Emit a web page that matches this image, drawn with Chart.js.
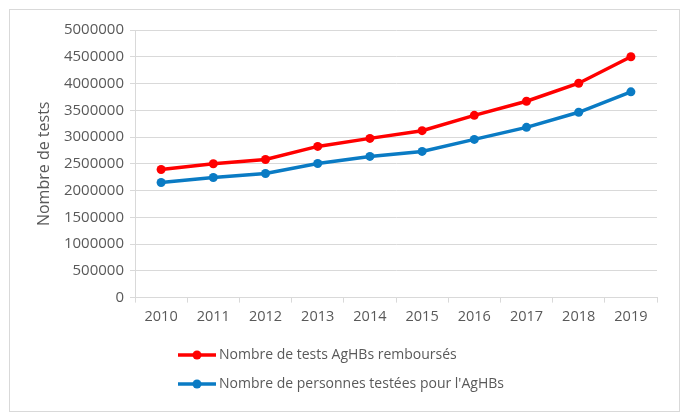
<!DOCTYPE html>
<html>
<head>
<meta charset="utf-8">
<script src="https://cdn.jsdelivr.net/npm/chart.js@4/dist/chart.umd.min.js"></script>
<style>
html,body{margin:0;padding:0;background:#fff;}
#wrap{width:690px;height:420px;position:relative;}
</style>
</head>
<body>
<div id="wrap"><canvas id="c" width="690" height="420"></canvas></div>
<script>
const years = ['2010','2011','2012','2013','2014','2015','2016','2017','2018','2019'];
const testsRembourses = [2394000, 2500000, 2581000, 2825000, 2975000, 3119000, 3406000, 3669000, 4006000, 4500000];
const personnesTestees = [2150000, 2244000, 2319000, 2506000, 2638000, 2731000, 2956000, 3181000, 3463000, 3844000];
const seriesLabels = ['Nombre de tests AgHBs remboursés', "Nombre de personnes testées pour l'AgHBs"];
const seriesColors = ['#FF0000', '#0A7BC4'];
const yTitle = 'Nombre de tests';

const FONT = "'Open Sans', sans-serif";
const TXT = '#595959';
const GRID = '#D9D9D9';

const frameAndLegend = {
  id: 'frameAndLegend',
  beforeDraw(chart) {
    const ctx = chart.ctx;
    ctx.save();
    ctx.fillStyle = '#fff';
    ctx.fillRect(0, 0, chart.width, chart.height);
    ctx.strokeStyle = GRID;
    ctx.lineWidth = 1;
    ctx.strokeRect(9.5, 9.5, 670, 402);
    ctx.restore();
  },
  afterDraw(chart) {
    const ctx = chart.ctx;
    ctx.save();
    const x0 = 178, x1 = 216, rowY = [355, 384];
    chart.data.datasets.forEach((ds, i) => {
      const y = rowY[i];
      ctx.strokeStyle = ds.borderColor;
      ctx.lineWidth = 3.5;
      ctx.beginPath();
      ctx.moveTo(x0, y);
      ctx.lineTo(x1, y);
      ctx.stroke();
      ctx.fillStyle = ds.borderColor;
      ctx.beginPath();
      ctx.arc((x0 + x1) / 2, y, 4.5, 0, Math.PI * 2);
      ctx.fill();
      ctx.fillStyle = TXT;
      ctx.font = '14px ' + FONT;
      ctx.textBaseline = 'middle';
      ctx.textAlign = 'left';
      ctx.fillText(ds.label, x1 + 3, y);
    });
    ctx.restore();
  }
};

new Chart(document.getElementById('c'), {
  type: 'line',
  data: {
    labels: years,
    datasets: [
      {label: seriesLabels[0], data: testsRembourses, borderColor: seriesColors[0], backgroundColor: seriesColors[0]},
      {label: seriesLabels[1], data: personnesTestees, borderColor: seriesColors[1], backgroundColor: seriesColors[1]}
    ]
  },
  options: {
    responsive: false,
    animation: false,
    devicePixelRatio: 1,
    layout: {padding: {left: 26, right: 33, top: 30, bottom: 88}},
    elements: {
      line: {borderWidth: 3.5, tension: 0},
      point: {radius: 4.5, hoverRadius: 4.5, borderWidth: 0}
    },
    plugins: {legend: {display: false}, tooltip: {enabled: false}},
    scales: {
      x: {
        offset: true,
        grid: {offset: true, drawOnChartArea: false, drawTicks: true, tickLength: 5, color: GRID},
        border: {color: GRID},
        ticks: {color: TXT, font: {family: FONT, size: 14.5}, padding: 6, maxRotation: 0}
      },
      y: {
        min: 0, max: 5000000,
        afterFit(s) { s.width = 109; },
        grid: {color: GRID, tickLength: 5},
        border: {color: GRID},
        ticks: {stepSize: 500000, color: TXT, font: {family: FONT, size: 15}, padding: 6, callback: v => String(v)},
        title: {display: true, text: yTitle, color: TXT, font: {family: FONT, size: 16}, padding: {top: 9, bottom: 0}}
      }
    }
  },
  plugins: [frameAndLegend]
});
</script>
</body>
</html>
